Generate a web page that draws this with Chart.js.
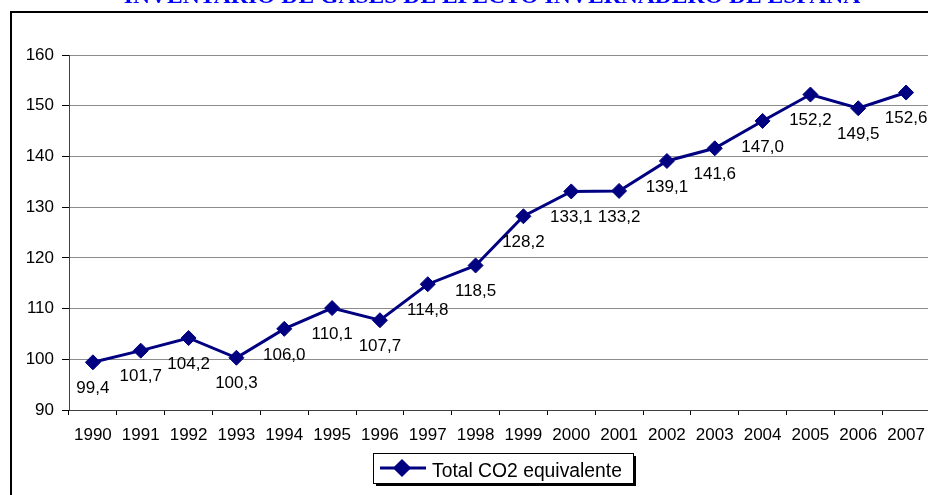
<!DOCTYPE html>
<html>
<head>
<meta charset="utf-8">
<script src="https://cdn.jsdelivr.net/npm/chart.js@4/dist/chart.umd.min.js"></script>
<style>
  body { margin: 0; overflow: hidden; background: #fff; }
  #wrap { width: 940px; height: 495px; position: relative; }
</style>
</head>
<body>
<div id="wrap"><canvas id="co2Chart"></canvas></div>
<script>
const years = ["1990", "1991", "1992", "1993", "1994", "1995", "1996", "1997", "1998",
  "1999", "2000", "2001", "2002", "2003", "2004", "2005", "2006", "2007"];
const totalCO2 = [99.4, 101.7, 104.2, 100.3, 106.0, 110.1, 107.7, 114.8, 118.5,
  128.2, 133.1, 133.2, 139.1, 141.6, 147.0, 152.2, 149.5, 152.6];
const seriesName = "Total CO2 equivalente";
const chartTitle = "INVENTARIO DE GASES DE EFECTO INVERNADERO DE ESPAÑA";

const navy = '#000080';
const sans = '"Liberation Sans", Arial, sans-serif';
const font = '17px ' + sans;

// white page, black frame and the cut-off title
const framePlugin = {
  id: 'frame',
  beforeDraw(chart) {
    const ctx = chart.ctx;
    ctx.save();
    ctx.fillStyle = '#fff';
    ctx.fillRect(0, 0, chart.width, chart.height);
    ctx.strokeStyle = '#000';
    ctx.lineWidth = 2;
    ctx.strokeRect(11, 12, 1000, 600);
    // title, only its bottom edge shows
    let size = 20;
    ctx.font = 'bold ' + size + 'px "Liberation Serif", "Times New Roman", serif';
    size = size * 737 / ctx.measureText(chartTitle).width;
    ctx.font = 'bold ' + size + 'px "Liberation Serif", "Times New Roman", serif';
    ctx.fillStyle = '#0000ff';
    ctx.textAlign = 'center';
    ctx.textBaseline = 'alphabetic';
    ctx.fillText(chartTitle, 492, 2.5);
    ctx.restore();
  }
};

const valueLabels = {
  id: 'valueLabels',
  afterDatasetsDraw(chart) {
    const ctx = chart.ctx;
    const meta = chart.getDatasetMeta(0);
    ctx.save();
    ctx.font = font;
    ctx.fillStyle = '#000';
    ctx.textAlign = 'center';
    ctx.textBaseline = 'middle';
    meta.data.forEach((pt, i) => {
      ctx.fillText(totalCO2[i].toFixed(1).replace('.', ','), pt.x, pt.y + 26);
    });
    ctx.restore();
  }
};

// boxed legend with shadow, like the spreadsheet one
const boxLegend = {
  id: 'boxLegend',
  afterDraw(chart) {
    const ctx = chart.ctx;
    const ds = chart.data.datasets[0];
    const x = 373, y = 453, w = 260, h = 30;
    ctx.save();
    ctx.fillStyle = '#000';
    ctx.fillRect(x + 3, y + 3, w, h);
    ctx.fillStyle = '#fff';
    ctx.fillRect(x, y, w, h);
    ctx.strokeStyle = '#000';
    ctx.lineWidth = 1;
    ctx.strokeRect(x + 0.5, y + 0.5, w, h);
    const cy = y + 15;
    ctx.strokeStyle = navy;
    ctx.lineWidth = 3;
    ctx.beginPath();
    ctx.moveTo(380, cy);
    ctx.lineTo(426, cy);
    ctx.stroke();
    Chart.helpers.drawPoint(ctx, {
      pointStyle: 'rectRot', radius: 7, rotation: 0, borderWidth: 1
    }, 402, cy);
    ctx.fillStyle = navy;
    ctx.fill();
    ctx.fillStyle = '#000';
    let size = 19;
    ctx.font = size + 'px ' + sans;
    size = size * 190 / ctx.measureText(ds.label).width;
    ctx.font = size + 'px ' + sans;
    ctx.textAlign = 'left';
    ctx.textBaseline = 'alphabetic';
    ctx.fillText(ds.label, 432, 477);
    ctx.restore();
  }
};

new Chart(document.getElementById('co2Chart'), {
  type: 'line',
  data: {
    labels: years,
    datasets: [{
      label: seriesName,
      data: totalCO2,
      borderColor: navy,
      backgroundColor: navy,
      borderWidth: 3,
      pointStyle: 'rectRot',
      pointRadius: 7.5,
      pointBorderWidth: 1,
      pointBackgroundColor: navy,
      pointBorderColor: navy,
      tension: 0
    }]
  },
  options: {
    responsive: true,
    maintainAspectRatio: false,
    animation: false,
    layout: { padding: { top: 55, left: 0, right: 10, bottom: 0 } },
    plugins: {
      legend: { display: false },
      title: { display: false },
      tooltip: { enabled: false }
    },
    scales: {
      x: {
        offset: true,
        grid: {
          offset: true,
          drawOnChartArea: false,
          drawTicks: true,
          tickLength: 5,
          tickColor: '#000'
        },
        border: { display: true, color: '#404040', width: 1 },
        ticks: {
          font: { family: sans, size: 17 },
          color: '#000',
          padding: 10,
          maxRotation: 0,
          autoSkip: false
        },
        afterFit(scale) { scale.height = 85; }
      },
      y: {
        min: 90,
        max: 160,
        ticks: {
          stepSize: 10,
          font: { family: sans, size: 17 },
          color: '#000',
          padding: 8
        },
        grid: {
          color: '#8c8c8c',
          tickColor: '#000',
          tickLength: 7
        },
        border: { display: true, color: '#404040', width: 1 },
        afterFit(scale) { scale.width = 69; }
      }
    }
  },
  plugins: [framePlugin, valueLabels, boxLegend]
});
</script>
</body>
</html>
